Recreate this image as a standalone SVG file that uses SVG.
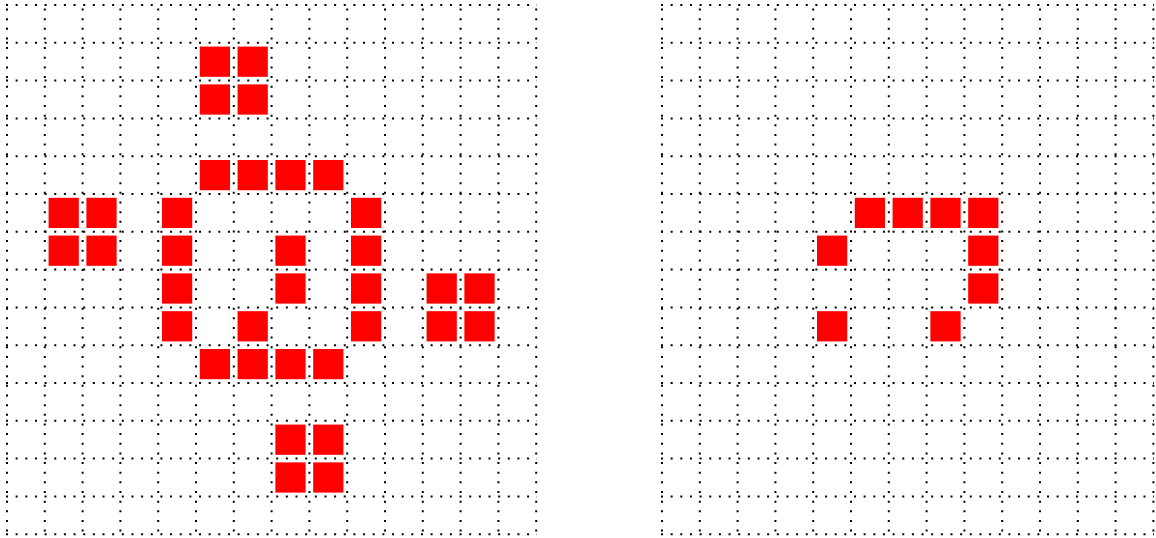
<svg xmlns="http://www.w3.org/2000/svg" width="1156" height="538" viewBox="0 0 1156 538">
<style>
.grid{fill:none;stroke:#000;stroke-width:2;stroke-dasharray:2 7.65}
.cell{fill:#ff0000}
</style>
<rect width="1156" height="538" fill="#fff"/>
<g id="left-grid">
<path class="grid" d="M7,8.5V534.2M44.8,8.5V534.2M82.6,8.5V534.2M120.4,8.5V534.2M158.2,8.5V534.2M196,8.5V534.2M233.8,8.5V534.2M271.6,8.5V534.2M309.4,8.5V534.2M347.2,8.5V534.2M385,8.5V534.2M422.8,8.5V534.2M460.6,8.5V534.2M498.4,8.5V534.2M536.2,8.5V534.2"/>
<path class="grid" d="M6,5H537M6,42.8H537M6,80.6H537M6,118.4H537M6,156.2H537M6,194H537M6,231.8H537M6,269.6H537M6,307.4H537M6,345.2H537M6,383H537M6,420.8H537M6,458.6H537M6,496.4H537M6,534.2H537"/>
</g>
<g id="right-grid">
<path class="grid" d="M662,8.5V534.2M699.8,8.5V534.2M737.6,8.5V534.2M775.4,8.5V534.2M813.2,8.5V534.2M851,8.5V534.2M888.8,8.5V534.2M926.6,8.5V534.2M964.4,8.5V534.2M1002.2,8.5V534.2M1040,8.5V534.2M1077.8,8.5V534.2M1115.6,8.5V534.2M1153.4,8.5V534.2"/>
<path class="grid" d="M661,5H1154M661,42.8H1154M661,80.6H1154M661,118.4H1154M661,156.2H1154M661,194H1154M661,231.8H1154M661,269.6H1154M661,307.4H1154M661,345.2H1154M661,383H1154M661,420.8H1154M661,458.6H1154M661,496.4H1154M661,534.2H1154"/>
</g>
<g id="left-cells" transform="translate(7,5) scale(37.8)">
<rect class="cell" x="5.1" y="1.1" width="0.8" height="0.8"/>
<rect class="cell" x="6.1" y="1.1" width="0.8" height="0.8"/>
<rect class="cell" x="5.1" y="2.1" width="0.8" height="0.8"/>
<rect class="cell" x="6.1" y="2.1" width="0.8" height="0.8"/>
<rect class="cell" x="5.1" y="4.1" width="0.8" height="0.8"/>
<rect class="cell" x="6.1" y="4.1" width="0.8" height="0.8"/>
<rect class="cell" x="7.1" y="4.1" width="0.8" height="0.8"/>
<rect class="cell" x="8.1" y="4.1" width="0.8" height="0.8"/>
<rect class="cell" x="1.1" y="5.1" width="0.8" height="0.8"/>
<rect class="cell" x="2.1" y="5.1" width="0.8" height="0.8"/>
<rect class="cell" x="4.1" y="5.1" width="0.8" height="0.8"/>
<rect class="cell" x="9.1" y="5.1" width="0.8" height="0.8"/>
<rect class="cell" x="1.1" y="6.1" width="0.8" height="0.8"/>
<rect class="cell" x="2.1" y="6.1" width="0.8" height="0.8"/>
<rect class="cell" x="4.1" y="6.1" width="0.8" height="0.8"/>
<rect class="cell" x="7.1" y="6.1" width="0.8" height="0.8"/>
<rect class="cell" x="9.1" y="6.1" width="0.8" height="0.8"/>
<rect class="cell" x="4.1" y="7.1" width="0.8" height="0.8"/>
<rect class="cell" x="7.1" y="7.1" width="0.8" height="0.8"/>
<rect class="cell" x="9.1" y="7.1" width="0.8" height="0.8"/>
<rect class="cell" x="11.1" y="7.1" width="0.8" height="0.8"/>
<rect class="cell" x="12.1" y="7.1" width="0.8" height="0.8"/>
<rect class="cell" x="4.1" y="8.1" width="0.8" height="0.8"/>
<rect class="cell" x="6.1" y="8.1" width="0.8" height="0.8"/>
<rect class="cell" x="9.1" y="8.1" width="0.8" height="0.8"/>
<rect class="cell" x="11.1" y="8.1" width="0.8" height="0.8"/>
<rect class="cell" x="12.1" y="8.1" width="0.8" height="0.8"/>
<rect class="cell" x="5.1" y="9.1" width="0.8" height="0.8"/>
<rect class="cell" x="6.1" y="9.1" width="0.8" height="0.8"/>
<rect class="cell" x="7.1" y="9.1" width="0.8" height="0.8"/>
<rect class="cell" x="8.1" y="9.1" width="0.8" height="0.8"/>
<rect class="cell" x="7.1" y="11.1" width="0.8" height="0.8"/>
<rect class="cell" x="8.1" y="11.1" width="0.8" height="0.8"/>
<rect class="cell" x="7.1" y="12.1" width="0.8" height="0.8"/>
<rect class="cell" x="8.1" y="12.1" width="0.8" height="0.8"/>
</g>
<g id="right-cells" transform="translate(662,5) scale(37.8)">
<rect class="cell" x="5.1" y="5.1" width="0.8" height="0.8"/>
<rect class="cell" x="6.1" y="5.1" width="0.8" height="0.8"/>
<rect class="cell" x="7.1" y="5.1" width="0.8" height="0.8"/>
<rect class="cell" x="8.1" y="5.1" width="0.8" height="0.8"/>
<rect class="cell" x="4.1" y="6.1" width="0.8" height="0.8"/>
<rect class="cell" x="8.1" y="6.1" width="0.8" height="0.8"/>
<rect class="cell" x="8.1" y="7.1" width="0.8" height="0.8"/>
<rect class="cell" x="4.1" y="8.1" width="0.8" height="0.8"/>
<rect class="cell" x="7.1" y="8.1" width="0.8" height="0.8"/>
</g>
</svg>
